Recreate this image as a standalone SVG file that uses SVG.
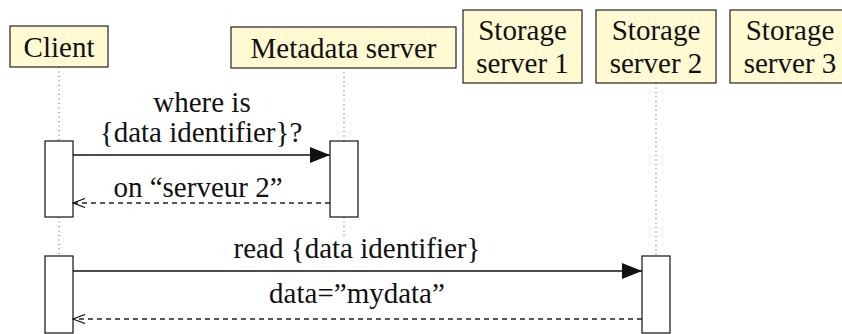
<svg xmlns="http://www.w3.org/2000/svg" width="842" height="334" viewBox="0 0 842 334">
<defs>
  <marker id="filled" viewBox="0 0 20 16" refX="20" refY="8" markerWidth="20" markerHeight="16" markerUnits="userSpaceOnUse" orient="auto">
    <path d="M0,0 L20,8 L0,16 Z" fill="#111"/>
  </marker>
  <marker id="open" viewBox="0 0 14 10" refX="13" refY="5" markerWidth="14" markerHeight="10" markerUnits="userSpaceOnUse" orient="auto">
    <path d="M1,0.5 L13,5 L1,9.5" fill="none" stroke="#111" stroke-width="1.2"/>
  </marker>
</defs>

<g id="lifelines" stroke="#555" stroke-width="1" stroke-dasharray="1 3.5" fill="none">
  <line x1="59" y1="67" x2="59" y2="141"/>
  <line x1="59" y1="217" x2="59" y2="256"/>
  <line x1="344" y1="68" x2="344" y2="141"/>
  <line x1="344" y1="217" x2="344" y2="236"/>
  <line x1="656" y1="83" x2="656" y2="256"/>
</g>

<g font-family="Liberation Serif" font-size="29" fill="#111" text-anchor="middle">
<g id="client">
  <rect x="10" y="26" width="98" height="41" fill="#fffad2" stroke="#222" stroke-width="1.2"/>
  <text x="59" y="57">Client</text>
</g>
<g id="metadata">
  <rect x="231" y="27" width="225" height="41" fill="#fffad2" stroke="#222" stroke-width="1.2"/>
  <text x="343.5" y="58">Metadata server</text>
</g>
<g id="storage1">
  <rect x="463" y="10" width="119" height="73" fill="#fffad2" stroke="#222" stroke-width="1.2"/>
  <text x="522.5" y="40">Storage</text>
  <text x="522.5" y="73">server 1</text>
</g>
<g id="storage2">
  <rect x="596" y="10" width="120" height="73" fill="#fffad2" stroke="#222" stroke-width="1.2"/>
  <text x="656" y="40">Storage</text>
  <text x="656" y="73">server 2</text>
</g>
<g id="storage3">
  <rect x="730" y="10" width="120" height="73" fill="#fffad2" stroke="#222" stroke-width="1.2"/>
  <text x="790" y="40">Storage</text>
  <text x="790" y="73">server 3</text>
</g>
</g>

<g id="activations" fill="#fff" stroke="#222" stroke-width="1.3">
  <rect x="45" y="141" width="28" height="76"/>
  <rect x="330" y="141" width="28" height="76"/>
  <rect x="45" y="256" width="28" height="77"/>
  <rect x="642" y="256" width="28" height="77"/>
</g>

<g id="connectors">
  <line x1="73" y1="155" x2="330" y2="155" stroke="#111" stroke-width="1.3" marker-end="url(#filled)"/>
  <line x1="330" y1="203" x2="73" y2="203" stroke="#222" stroke-width="1.3" stroke-dasharray="5 4" marker-end="url(#open)"/>
  <line x1="73" y1="271" x2="642" y2="271" stroke="#111" stroke-width="1.3" marker-end="url(#filled)"/>
  <line x1="642" y1="319" x2="73" y2="319" stroke="#222" stroke-width="1.3" stroke-dasharray="5 4" marker-end="url(#open)"/>
  <g font-family="Liberation Serif" font-size="29" fill="#111" text-anchor="middle">
    <text x="202" y="112">where is</text>
    <text x="201" y="142">{data identifier}?</text>
    <text x="198" y="197">on “serveur 2”</text>
    <text x="357" y="258">read {data identifier}</text>
    <text x="357" y="303">data=”mydata”</text>
  </g>
</g>
</svg>
